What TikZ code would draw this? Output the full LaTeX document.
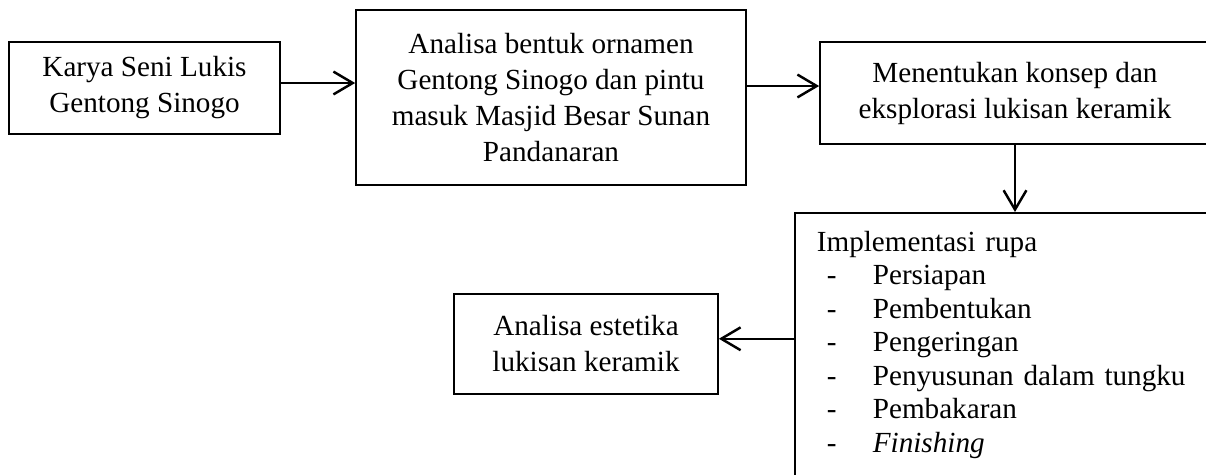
\documentclass[tikz,border=0pt]{standalone}
\usepackage{fontspec}
\setmainfont{Liberation Serif}
\usetikzlibrary{arrows.meta,positioning}
\newcommand{\butir}[1]{\hspace*{0.2cm}\makebox[0.92cm][l]{-}#1}

\begin{document}
\begin{tikzpicture}[
    x=0.02cm, y=-0.02cm,
    kotak/.style={draw, line width=1pt, align=center, inner sep=0pt, font=\fontsize{16.6}{20.5}\selectfont},
    daftar/.style={draw, line width=1pt, align=left, text width=7.54cm, inner xsep=0.44cm, inner ysep=0.36cm, font=\fontsize{16.6}{19.1}\selectfont},
    panah/.style={-{Straight Barb[length=11pt,width=13pt]}, line width=1.4pt}
]
\path[use as bounding box, clip] (0,0) rectangle (1206,474);

\node[kotak, minimum width=5.42cm, minimum height=1.84cm] (karya) at (144.5,88) {Karya Seni Lukis\\Gentong Sinogo};
\node[kotak, minimum width=7.8cm, minimum height=3.5cm] (analisa) at (551,97.5) {Analisa bentuk ornamen\\Gentong Sinogo dan pintu\\masuk Masjid Besar Sunan\\Pandanaran};
\node[kotak, minimum width=7.8cm, minimum height=2.04cm] (konsep) at (1015,93) {Menentukan konsep dan\\eksplorasi lukisan keramik};
\node[daftar, anchor=north west] (impl) at (794,212) {Implementasi rupa\\
    \butir{Persiapan}\\
    \butir{Pembentukan}\\
    \butir{Pengeringan}\\
    \butir{Penyusunan dalam tungku}\\
    \butir{Pembakaran}\\
    \butir{\textit{Finishing}}};
\node[kotak, minimum width=5.28cm, minimum height=2cm] (estetika) at (586,344) {Analisa estetika\\lukisan keramik};

\draw[panah] ([yshift=0.1cm]karya.east) -- ([yshift=0.1cm]karya.east -| analisa.west);
\draw[panah] ([yshift=0.14cm]analisa.east |- konsep.west) -- ([yshift=0.14cm]konsep.west);
\draw[panah] (konsep.south) -- (konsep.south |- impl.north);
\draw[panah] ([yshift=0.12cm]impl.west) -- ([yshift=0.12cm]impl.west -| estetika.east);
\end{tikzpicture}
\end{document}
